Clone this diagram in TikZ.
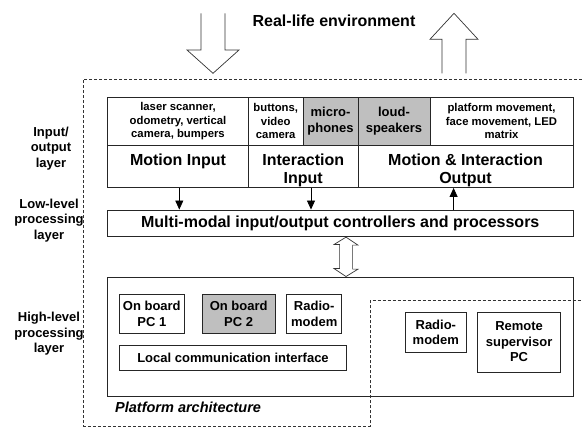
\documentclass[tikz,border=0pt]{standalone}
\usepackage{fontspec}
\setmainfont{Liberation Sans}
\usetikzlibrary{arrows.meta}
\begin{document}
\begin{tikzpicture}[x=1pt,y=-1pt,
  box/.style={draw=black!85, line width=0.9pt, rectangle, inner sep=0pt, align=center},
  graybox/.style={box, fill=black!25},
  smalltxt/.style={font=\bfseries\fontsize{11.3}{13.3}\selectfont, align=center},
  midtxt/.style={font=\bfseries\fontsize{13}{15.5}\selectfont, align=center},
  bigtxt/.style={font=\bfseries\fontsize{16}{18}\selectfont, align=center},
  dashline/.style={draw=black!80, line width=0.6pt, dash pattern=on 3pt off 2pt},
  hollow/.style={draw=black!80, line width=0.7pt, fill=white, line join=miter},
  smallarrow/.style={draw=black, line width=0.8pt, -{Triangle[length=9pt,width=8pt]}}
]
\useasboundingbox (0,0) rectangle (582,430);

% outer dashed regions
\draw[dashline] (582,79) -- (83.5,79) -- (83.5,426) -- (370.5,426) -- (370.5,300.5) -- (582,300.5);

% big environment arrows
\draw[hollow] (201,13.3) -- (201,50) -- (187,50) -- (213,73.3) -- (239,50) -- (225,50) -- (225,13.3);
\draw[hollow] (442,73.3) -- (442,39.3) -- (430,39.3) -- (454,13.3) -- (478,39.3) -- (466,39.3) -- (466,73.3);
\node[bigtxt] (env) at (334,21) {Real-life environment};

% layer labels
\node[midtxt] (lio) at (51,148.5) {Input/\\output\\layer};
\node[midtxt] (llow) at (49,220.5) {Low-level\\processing\\layer};
\node[midtxt] (lhigh) at (49,334) {High-level\\processing\\layer};

% top row of table
\node[box, minimum width=141pt, minimum height=47.5pt] (laser) at (178,121.25) {};
\node[smalltxt] (laserT) at (laser.center) {laser scanner,\\odometry, vertical\\camera, bumpers};
\node[box, minimum width=54.5pt, minimum height=47.5pt] (buttons) at (275.75,121.25) {};
\node[smalltxt] (buttonsT) at (buttons.center) {buttons,\\video\\camera};
\node[graybox, minimum width=55pt, minimum height=47.5pt] (micro) at (330.5,121.25) {};
\node[midtxt] (microT) at (micro.center) {micro-\\phones};
\node[graybox, minimum width=72pt, minimum height=47.5pt] (loud) at (394,121.25) {};
\node[midtxt] (loudT) at (loud.center) {loud-\\speakers};
\node[box, minimum width=143pt, minimum height=47.5pt] (plat) at (501.5,121.25) {};
\node[smalltxt] (platT) at (plat.center) {platform movement,\\face movement, LED\\matrix};

% lower row of table
\node[box, minimum width=141pt, minimum height=42.5pt] (mi) at (178,166.25) {};
\node[bigtxt, anchor=north, inner sep=0pt] (miT) at (178,154) {Motion Input};
\node[box, minimum width=109.5pt, minimum height=42.5pt] (ii) at (303.25,166.25) {};
\node[bigtxt, anchor=north, inner sep=0pt] (iiT) at (303.25,154) {Interaction\\Input};
\node[box, minimum width=215pt, minimum height=42.5pt] (mio) at (465.5,166.25) {};
\node[bigtxt, anchor=north, inner sep=0pt] (mioT) at (465.5,154) {Motion \& Interaction\\Output};

% low-level box
\node[box, minimum width=465.5pt, minimum height=26.7pt, bigtxt] (multi) at (340.25,223.35) {Multi-modal input/output controllers and processors};

\coordinate (xa) at (179.3,0);
\coordinate (xb) at (311,0);
\coordinate (xc) at (453.6,0);
\draw[smallarrow] (xa |- mi.south) -- (xa |- multi.north);
\draw[smallarrow] (xb |- ii.south) -- (xb |- multi.north);
\draw[smallarrow] (xc |- multi.north) -- (xc |- mio.south);

% high-level box
\node[box, minimum width=465.5pt, minimum height=119pt] (high) at (340.25,336.5) {};

\coordinate (xd) at (346,0);
\draw[hollow] (xd |- multi.south) -- ++(12,8) -- ++(-5.4,0) -- ++(0,24) -- ++(5.4,0)
  -- (xd |- high.north) -- ++(-12,-8) -- ++(5.6,0) -- ++(0,-24) -- ++(-5.6,0) -- cycle;

\node[box, midtxt, minimum width=65pt, minimum height=39pt] (pc1) at (151.8,313.7) {On board\\PC 1};
\node[graybox, midtxt, minimum width=72.7pt, minimum height=39pt] (pc2) at (238.65,313.7) {On board\\PC 2};
\node[box, midtxt, minimum width=55pt, minimum height=39pt] (rm1) at (314.2,313.7) {Radio-\\modem};
\node[box, midtxt, minimum width=227.4pt, minimum height=24.3pt] (lci) at (233,357.9) {Local communication interface};

\node[box, midtxt, minimum width=60.3pt, minimum height=40pt] (rm2) at (435.85,332.3) {Radio-\\modem};
\node[box, midtxt, minimum width=82.8pt, minimum height=60pt] (rsp) at (519.1,342) {Remote\\supervisor\\PC};

\node[font=\bfseries\itshape\fontsize{14.5}{16}\selectfont, anchor=west, inner sep=0pt] (pa) at (115,407.5) {Platform architecture};
\end{tikzpicture}
\end{document}
